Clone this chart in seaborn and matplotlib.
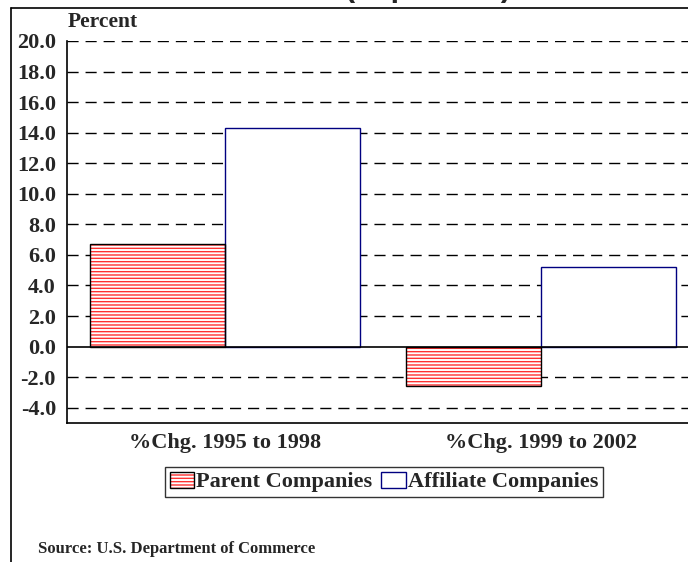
import matplotlib
matplotlib.use("Agg")
import matplotlib.pyplot as plt
import seaborn as sns
import pandas as pd
from matplotlib.patches import Patch, Rectangle
from matplotlib.lines import Line2D
from matplotlib.legend_handler import HandlerTuple

categories = ["%Chg. 1995 to 1998", "%Chg. 1999 to 2002"]
series = ["Parent Companies", "Affiliate Companies"]
parent_values = [6.7, -2.6]
affiliate_values = [14.3, 5.2]
y_ticks = [-4.0, -2.0, 0.0, 2.0, 4.0, 6.0, 8.0, 10.0, 12.0, 14.0, 16.0, 18.0, 20.0]

df = pd.DataFrame({
    "category": categories * 2,
    "series": [series[0]] * 2 + [series[1]] * 2,
    "value": parent_values + affiliate_values,
})

sns.set_style("white")
plt.rcParams["font.family"] = ["Liberation Serif", "DejaVu Serif"]
plt.rcParams["hatch.linewidth"] = 1.0

fig = plt.figure(figsize=(6.88, 5.62), dpi=100)
ax = fig.add_axes([67 / 688, 139 / 562, 632 / 688, 382 / 562])

sns.barplot(data=df, x="category", y="value", hue="series", order=categories,
            hue_order=series, width=0.854, palette=["white", "white"],
            ax=ax, legend=False, saturation=1)

n = len(categories)
for i, p in enumerate(ax.patches[:2 * n]):
    if i < n:
        p.set_facecolor("white")
        p.set_edgecolor("#ff3030")
        p.set_hatch("-----")
        p.set_linewidth(0)
        outline = Rectangle(p.get_xy(), p.get_width(), p.get_height(), fill=False,
                            edgecolor="black", linewidth=1.0, zorder=p.get_zorder() + 0.1)
        ax.add_patch(outline)
    else:
        p.set_facecolor("white")
        p.set_edgecolor("#000080")
        p.set_linewidth(1.0)

ax.set_xlim(-0.5, 1.5)
ax.set_ylim(-5, 20)
ax.set_yticks(y_ticks)
ax.set_yticklabels([f"{v:.1f}" for v in y_ticks], fontsize=16, fontweight="bold")
ax.set_xticks(range(n))
ax.set_xticklabels(categories, fontsize=16, fontweight="bold")
ax.tick_params(axis="y", length=0, pad=8)
ax.tick_params(axis="x", length=0, pad=7)
ax.set_xlabel("")
ax.set_ylabel("")

for v in y_ticks:
    if v == 0:
        continue
    ax.axhline(v, color="black", linewidth=1.0, linestyle=(0, (8, 5)), zorder=0.5)
ax.axhline(0, color="black", linewidth=1.2, zorder=3)

for s in ["top", "right"]:
    ax.spines[s].set_visible(False)
for s in ["left", "bottom"]:
    ax.spines[s].set_color("black")
    ax.spines[s].set_linewidth(1.2)

fig.text(68 / 688, 1 - 22 / 562, "Percent", fontsize=15.5, fontweight="bold",
         va="center", ha="left")

h_parent = (Patch(facecolor="white", edgecolor="#ff3030", hatch="-----", linewidth=0),
            Patch(facecolor="none", edgecolor="black", linewidth=1.0))
h_aff = Patch(facecolor="white", edgecolor="#000080", linewidth=1.0)
leg = fig.legend([h_parent, h_aff], series, loc="center", bbox_to_anchor=(384 / 688, 1 - 482 / 562),
                 ncol=2, frameon=True, fancybox=False, edgecolor="black",
                 prop={"size": 16, "weight": "bold"}, handlelength=1.1, handleheight=0.75,
                 handletextpad=0.1, columnspacing=0.4, borderpad=0.2, borderaxespad=0,
                 handler_map={tuple: HandlerTuple(ndivide=1)})
leg.get_frame().set_linewidth(1.0)

fig.text(38 / 688, 1 - 549 / 562, "Source: U.S. Department of Commerce", fontsize=12,
         fontweight="bold", va="center", ha="left")

fig.text(428 / 688, 1 + 4 / 562, "(in percent)", fontsize=22, fontweight="bold",
         family=["Liberation Sans", "DejaVu Sans"], ha="center", va="baseline")

fig.add_artist(Line2D([11 / 688, 11 / 688], [0, 1 - 8 / 562], color="black", linewidth=1.2,
                      transform=fig.transFigure))
fig.add_artist(Line2D([11 / 688, 1], [1 - 8 / 562, 1 - 8 / 562], color="black", linewidth=1.2,
                      transform=fig.transFigure))

fig.savefig("out.png", dpi=100)
